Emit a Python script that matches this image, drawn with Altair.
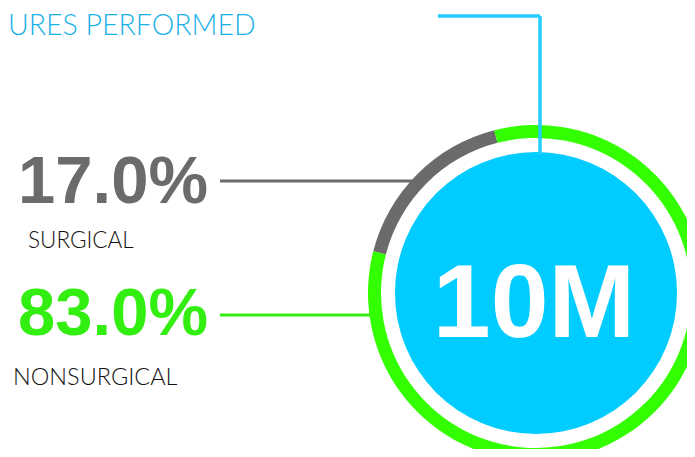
import math
import altair as alt
import pandas as pd

# ---- data ----
categories = ["SURGICAL", "NONSURGICAL"]
shares = [17.0, 83.0]
seg_colors = ["#6b6b6b", "#33ff00"]
total_label = "10M"
title_text = "URES PERFORMED"

df = pd.DataFrame({"category": categories, "share": shares, "order": [0, 1]})

W, H = 679, 441
CX, CY = 528, 285
start = math.radians(284.4)
BOLD = "'Liberation Sans', Arial, sans-serif"
LIGHT = "Lato, 'Open Sans', sans-serif"

ring = alt.Chart(df).mark_arc(innerRadius=155, outerRadius=168).encode(
    theta=alt.Theta("share:Q", stack=True, scale=alt.Scale(range=[start, start + 2 * math.pi])),
    color=alt.Color("category:N", scale=alt.Scale(domain=categories, range=seg_colors), legend=None),
    order=alt.Order("order:Q"),
    x=alt.value(CX),
    y=alt.value(CY),
)

one = pd.DataFrame({"a": [1]})
disc = alt.Chart(one).mark_arc(outerRadius=141, theta=0, theta2=2 * math.pi, color="#00ccff").encode(
    x=alt.value(CX), y=alt.value(CY)
)

big = alt.Chart(one).mark_text(
    text=total_label, font=BOLD, fontWeight="bold", fontSize=104,
    color="white", align="center", baseline="alphabetic"
).encode(x=alt.value(526), y=alt.value(329))

def rule(x1, x2, y1, y2, color, w):
    return alt.Chart(one).mark_rule(color=color, strokeWidth=w).encode(
        x=alt.value(x1), x2=alt.value(x2), y=alt.value(y1), y2=alt.value(y2)
    )

lines = [
    rule(430, 532, 8, 8, "#22ccff", 3.5),
    rule(532, 532, 8, 147, "#22ccff", 3.5),
    rule(212, 407, 173, 173, "#6b6b6b", 3),
    rule(212, 362, 307, 307, "#33ee11", 3),
]

def txt(s, x, y, size, color, font, weight="normal", align="left"):
    return alt.Chart(one).mark_text(
        text=s, font=font, fontWeight=weight, fontSize=size, color=color,
        align=align, baseline="alphabetic"
    ).encode(x=alt.value(x), y=alt.value(y))

pct = [f"{v:.1f}%" for v in shares]
texts = [
    txt(title_text, 0, 27, 28.5, "#1ab0e8", LIGHT, 300),
    txt(pct[0], 10, 195, 67, "#6b6b6b", BOLD, "bold"),
    txt(pct[1], 10, 327, 67, "#33ee11", BOLD, "bold"),
    txt(categories[0], 20, 240, 22.5, "#111111", LIGHT, 300),
    txt(categories[1], 5, 377, 23.5, "#111111", LIGHT, 300),
]

chart = alt.layer(ring, disc, big, *lines, *texts).properties(
    width=W, height=H, padding=0, autosize=alt.AutoSizeParams(type="none")
).configure_view(stroke=None)

chart.save("out.html", embed_options={"renderer": "svg", "actions": False})
